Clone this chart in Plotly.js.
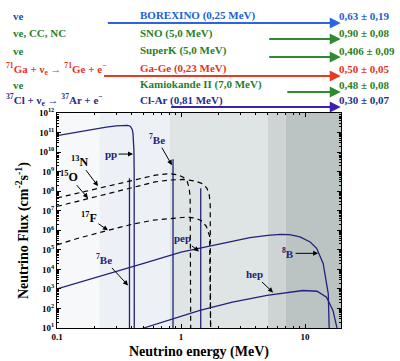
<!DOCTYPE html>
<html>
<head>
<meta charset="utf-8">
<script src="https://cdn.plot.ly/plotly-3.0.1.min.js"></script>
<style>html,body{margin:0;padding:0;background:#fff;}#chart{width:400px;height:361px;}</style>
</head>
<body>
<div id="chart"></div>
<script>
// ---------- data ----------
const ppEnergy = [0.1, 0.15, 0.2, 0.25, 0.3, 0.34, 0.37, 0.39, 0.40, 0.405, 0.41, 0.414, 0.417, 0.419, 0.42];
const ppFlux   = [6.9e10, 1.12e11, 1.55e11, 1.9e11, 2.2e11, 2.4e11, 2.35e11, 2.1e11, 1.75e11, 1.4e11, 8.9e10, 4e10, 1.26e10, 1e9, 1];

const lineEnergies = [0.384, 0.862, 1.442];       // 7Be, 7Be, pep
const lineFluxes   = [4.6e8, 4.3e9, 1.4e8];

const n13Energy = [0.1, 0.2, 0.3, 0.45, 0.62, 0.8, 0.95, 1.05, 1.12, 1.16, 1.185, 1.199];
const n13Flux   = [4.5e7, 1.26e8, 2.3e8, 4.2e8, 6.6e8, 7.9e8, 6.9e8, 5e8, 3.2e8, 1.6e8, 5e7, 1];

const o15Energy = [0.1, 0.2, 0.3, 0.45, 0.62, 0.8, 1.04, 1.3, 1.5, 1.62, 1.69, 1.72, 1.732];
const o15Flux   = [1.66e7, 5e7, 9.5e7, 1.8e8, 3e8, 3.7e8, 4e8, 3.3e8, 2.4e8, 1.4e8, 6.3e7, 2e7, 1];

const f17Energy = [0.1, 0.15, 0.26, 0.4, 0.6, 0.9, 1.1, 1.3, 1.45, 1.6, 1.7, 1.74];
const f17Flux   = [1.8e5, 4e5, 1e6, 2e6, 3.3e6, 4.4e6, 4.7e6, 4.2e6, 3.2e6, 1.6e6, 5e5, 1];

const b8Energy = [0.1, 0.2, 0.5, 1, 2, 3.6, 5, 6.3, 7.5, 9.1, 11, 12.4, 14, 15.4, 15.8];
const b8Flux   = [1e3, 3.5e3, 2e4, 7.6e4, 2e5, 4.2e5, 5.5e5, 6.2e5, 6e5, 4.6e5, 2.5e5, 1.2e5, 2e4, 560, 1];

const hepEnergy = [0.4, 0.5, 1.42, 2.6, 4.94, 9.6, 12.5, 14.9, 16.8, 18.1, 18.4];
const hepFlux   = [5.5, 10, 79, 209, 468, 830, 760, 380, 79, 10, 1];

// experiments (rows above the plot)
const expReaction  = ['ve', 've, CC, NC', 've', '<sup>71</sup>Ga + ν<sub>e</sub> → <sup>71</sup>Ge + e<sup>−</sup>', 've', '<sup>37</sup>Cl + ν<sub>e</sub> → <sup>37</sup>Ar + e<sup>−</sup>'];
const expNames     = ['BOREXINO (0,25 MeV)', 'SNO (5,0 MeV)', 'SuperK (5,0 MeV)', 'Ga-Ge (0,23 MeV)', 'Kamiokande II (7,0 MeV)', 'Cl-Ar (0,81 MeV)'];
const expThreshold = [0.25, 5.0, 5.0, 0.233, 7.0, 0.81];
const expResults   = ['0,63 ± 0,19', '0,90 ± 0,08', '0,406 ± 0,09', '0,50 ± 0,05', '0,48 ± 0,08', '0,30 ± 0,07'];

// shaded detector-threshold bands
const bandEdges = [0.1, 0.22, 0.81, 5, 7, 19.5];

// ---------- styles ----------
const SERIF = 'Liberation Serif';
const NAVY = '#22227c';
const rowColors = ['#2060d0', '#2a7f2a', '#2a7f2a', '#e8321e', '#2a7f2a', '#1f2d8e'];
const reactColors = ['#1d4fa0', '#2a7f2a', '#2a7f2a', '#e8321e', '#2a7f2a', '#1f2d8e'];
const arrowColors = ['#2a64e0', '#2e8b2e', '#2e8b2e', '#e83a20', '#2e8b2e', '#3b22aa'];
const bandColors = ['#f6f8f9', '#edf1f5', '#dfe4e4', '#cdd4d3', '#bcc4c3'];

const traces = [];
const solid = {color: NAVY, width: 1.3};
const dashed = {color: '#000', width: 1.2, dash: '5px,4px'};
traces.push({x: ppEnergy, y: ppFlux, mode: 'lines', line: solid});
lineEnergies.forEach((e, i) => {
  traces.push({x: [e, e], y: [1, lineFluxes[i]], mode: 'lines', line: solid});
});
traces.push({x: n13Energy, y: n13Flux, mode: 'lines', line: dashed});
traces.push({x: o15Energy, y: o15Flux, mode: 'lines', line: dashed});
traces.push({x: f17Energy, y: f17Flux, mode: 'lines', line: dashed});
traces.push({x: b8Energy, y: b8Flux, mode: 'lines', line: solid});
traces.push({x: hepEnergy, y: hepFlux, mode: 'lines', line: solid});

// ---------- geometry helpers (pixel -> paper) ----------
const L = 57, R = 341, T = 113, B = 328;
const px = x => (x - L) / (R - L);
const py = y => (B - y) / (B - T);

const shapes = [];
for (let i = 0; i < bandColors.length; i++) {
  shapes.push({type: 'rect', xref: 'x', yref: 'paper', x0: bandEdges[i], x1: bandEdges[i + 1],
    y0: 0, y1: 1, fillcolor: bandColors[i], line: {width: 0}, layer: 'below'});
}

const annotations = [];
const rowTextY = [16, 33, 51, 69, 85, 100];
const rowArrowY = [23, 39, 57, 76, 92, 107];
const headX = Math.log10(19.4);
for (let i = 0; i < expNames.length; i++) {
  annotations.push({xref: 'x', yref: 'paper', x: headX, y: py(rowArrowY[i]), axref: 'x', ayref: 'pixel',
    ax: Math.log10(expThreshold[i]), ay: 0, text: '', showarrow: true, arrowhead: 2, arrowsize: 1.1,
    arrowwidth: 2, arrowcolor: arrowColors[i], standoff: 0, startstandoff: 0});
  annotations.push({xref: 'paper', yref: 'paper', x: px(i === 3 || i === 5 ? 4 : 11), y: py(rowTextY[i]), xanchor: 'left', yanchor: 'middle',
    text: '<b>' + expReaction[i] + '</b>', showarrow: false, font: {family: SERIF, size: 11, color: reactColors[i]}});
  annotations.push({xref: 'paper', yref: 'paper', x: px(138), y: py(rowTextY[i]), xanchor: 'left', yanchor: 'middle',
    text: '<b>' + expNames[i] + '</b>', showarrow: false, font: {family: SERIF, size: 11, color: rowColors[i]}});
  annotations.push({xref: 'paper', yref: 'paper', x: px(337), y: py(rowTextY[i]), xanchor: 'left', yanchor: 'middle',
    text: '<b>' + expResults[i] + '</b>', showarrow: false, font: {family: SERIF, size: 11, color: rowColors[i]}});
}

// in-plot labels with arrows: [text, headLogE, headLogFlux, ax, ay, color, size]
const labels = [
  ['pp', -0.387, 9.9, -22, 0, NAVY, 11],
  ['<sup>7</sup>Be', -0.073, 9.33, -15, -26, NAVY, 11],
  ['<sup>13</sup>N', -0.669, 8.26, -19, -25, '#000', 12],
  ['<sup>15</sup>O', -0.75, 7.64, -19, -22, '#000', 12],
  ['<sup>17</sup>F', -0.589, 6.0, -19, -13, '#000', 12],
  ['<sup>7</sup>Be', -0.427, 3.18, -24, -26, NAVY, 11],
  ['pep', 0.145, 4.92, -17, -13, NAVY, 11],
  ['<sup>8</sup>B', 1.105, 4.82, -30, 0, NAVY, 11],
  ['hep', 0.742, 2.82, -19, -18, NAVY, 11]
];
labels.forEach(l => {
  annotations.push({xref: 'x', yref: 'y', x: l[1], y: l[2], ax: l[3], ay: l[4], text: '<b>' + l[0] + '</b>', showarrow: true,
    arrowhead: 2, arrowsize: 1, arrowwidth: 1, arrowcolor: '#000', standoff: 0,
    font: {family: SERIF, size: l[6], color: l[5]}});
});

// axis titles
annotations.push({xref: 'paper', yref: 'paper', x: px(199), y: py(352), xanchor: 'center', yanchor: 'middle',
  text: '<b>Neutrino energy (MeV)</b>', showarrow: false, font: {family: SERIF, size: 14, color: '#000'}});
annotations.push({xref: 'paper', yref: 'paper', x: px(22), y: py(231), xanchor: 'center', yanchor: 'middle', textangle: -90,
  text: '<b>Neutrino Flux (cm<sup>-2</sup>s<sup>-1</sup>)</b>', showarrow: false, font: {family: SERIF, size: 14, color: '#000'}});

const yTickVals = [], yTickText = [], yMinor = [];
for (let p = 1; p <= 12; p++) {
  yTickVals.push(Math.pow(10, p)); yTickText.push('<b>10<sup>' + p + '</sup></b>');
  if (p < 12) for (let k = 2; k <= 9; k++) yMinor.push(k * Math.pow(10, p));
}
const xMinor = [];
for (let p = -1; p <= 1; p++) for (let k = 2; k <= 9; k++) { const v = k * Math.pow(10, p); if (v < 19.5) xMinor.push(v); }

const axisCommon = {
  showline: true, linecolor: '#000', linewidth: 1, mirror: 'ticks', ticks: 'inside', ticklen: 4,
  tickcolor: '#000', showgrid: false, zeroline: false,
  tickfont: {family: SERIF, size: 9, color: '#000'}
};

const layout = {
  width: 400, height: 361,
  margin: {l: L, r: 400 - R, t: T, b: 361 - B},
  paper_bgcolor: '#fff', plot_bgcolor: '#fff',
  font: {family: SERIF},
  showlegend: false,
  xaxis: Object.assign({}, axisCommon, {type: 'log', range: [-1, Math.log10(19.5)],
    tickmode: 'array', tickvals: [0.1, 1, 10], ticktext: ['<b>0.1</b>', '<b>1</b>', '<b>10</b>'],
    minor: {tickmode: 'array', tickvals: xMinor, ticks: 'inside', ticklen: 2, tickcolor: '#000', showgrid: false}}),
  yaxis: Object.assign({}, axisCommon, {type: 'log', range: [1, 12],
    tickmode: 'array', tickvals: yTickVals, ticktext: yTickText,
    minor: {tickmode: 'array', tickvals: yMinor, ticks: 'inside', ticklen: 2, tickcolor: '#000', showgrid: false}}),
  shapes: shapes,
  annotations: annotations
};

Plotly.newPlot('chart', traces, layout, {displayModeBar: false, staticPlot: true});
</script>
</body>
</html>
